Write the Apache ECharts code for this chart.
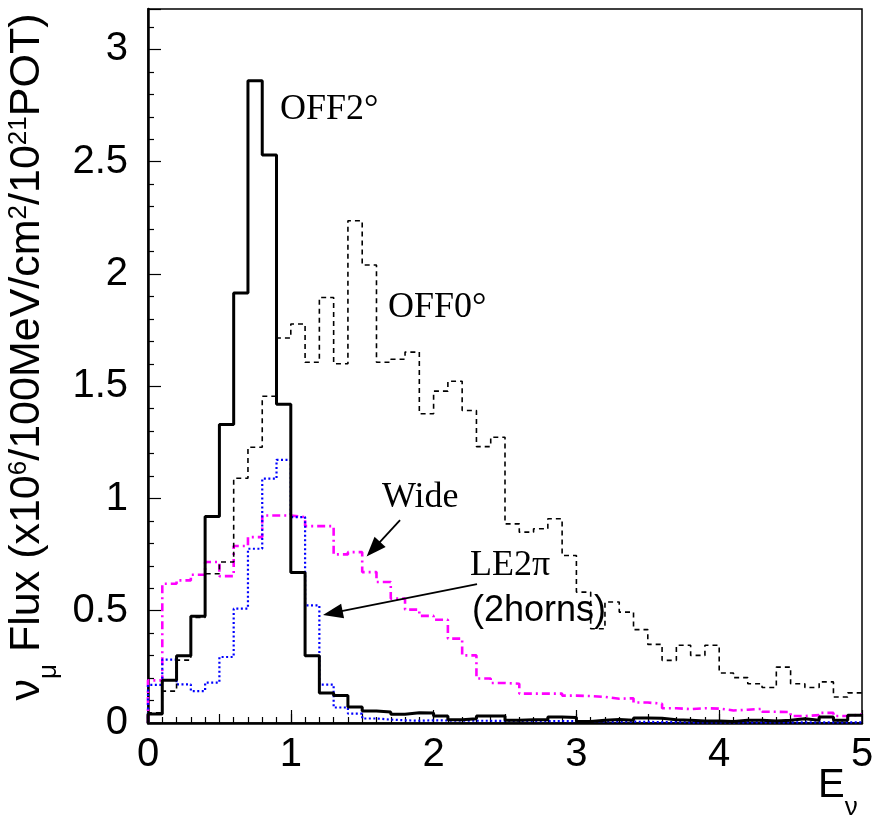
<!DOCTYPE html>
<html>
<head>
<meta charset="utf-8">
<script src="https://cdn.jsdelivr.net/npm/echarts@6/dist/echarts.min.js"></script>
<style>
  html, body { margin: 0; padding: 0; background: #fff; }
  #chart { width: 872px; height: 818px; }
</style>
</head>
<body>
<div id="chart"></div>
<script>
// 50 bins of 0.1 GeV, E from 0 to 5
const binEdges = Array.from({ length: 51 }, (_, i) => +(i * 0.1).toFixed(1));

// OFF2 deg (solid)
const off2 = [
  0.04, 0.19, 0.30, 0.475, 0.92, 1.33, 1.915, 2.86, 2.53, 1.42,
  0.67, 0.30, 0.134, 0.123, 0.071, 0.053, 0.049, 0.039, 0.046, 0.045,
  0.031, 0.015, 0.019, 0.031, 0.031, 0.012, 0.015, 0.015, 0.027, 0.024,
  0.007, 0.012, 0.016, 0.012, 0.022, 0.021, 0.015, 0.012, 0.009, 0.009,
  0.007, 0.012, 0.012, 0.009, 0.012, 0.019, 0.012, 0.027, 0.012, 0.034
];
// OFF0 deg (dashed)
const off0 = [
  0.045, 0.142, 0.28, 0.47, 0.665, 0.717, 1.09, 1.228, 1.455, 1.715,
  1.777, 1.607, 1.895, 1.60, 2.237, 2.04, 1.607, 1.62, 1.652, 1.377,
  1.478, 1.522, 1.392, 1.231, 1.273, 0.887, 0.85, 0.865, 0.91, 0.746,
  0.583, 0.42, 0.539, 0.494, 0.416, 0.35, 0.279, 0.346, 0.301, 0.346,
  0.223, 0.202, 0.175, 0.158, 0.249, 0.175, 0.158, 0.183, 0.116, 0.134
];
// Wide (magenta dash-dot)
const wide = [
  0.19, 0.62, 0.635, 0.66, 0.717, 0.654, 0.788, 0.828, 0.924, 0.924,
  0.917, 0.877, 0.877, 0.751, 0.761, 0.672, 0.628, 0.554, 0.505, 0.477,
  0.46, 0.376, 0.301, 0.198, 0.178, 0.175, 0.131, 0.131, 0.131, 0.122,
  0.12, 0.116, 0.108, 0.11, 0.091, 0.086, 0.066, 0.062, 0.066, 0.064,
  0.056, 0.059, 0.063, 0.05, 0.049, 0.031, 0.035, 0.045, 0.031, 0.038
];
// LE2pi, 2 horns (blue dotted)
const le2pi = [
  0.17, 0.282, 0.172, 0.142, 0.18, 0.294, 0.509, 0.776, 1.088, 1.172,
  0.917, 0.524, 0.171, 0.069, 0.042, 0.02, 0.015, 0.012, 0.01, 0.012,
  0.011, 0.01, 0.01, 0.01, 0.009, 0.01, 0.009, 0.008, 0.009, 0.008,
  0.007, 0.007, 0.006, 0.006, 0.005, 0.004, 0.004, 0.003, 0.003, 0.003,
  0.003, 0.003, 0.003, 0.003, 0.003, 0.003, 0.003, 0.003, 0.003, 0.003
];

const yTicks = [0, 0.5, 1, 1.5, 2, 2.5, 3];

// histogram outline: rise from 0 at the first edge, then one step per bin
function steps(vals) {
  const pts = [[binEdges[0], 0]];
  vals.forEach((v, i) => pts.push([binEdges[i], v]));
  pts.push([binEdges[vals.length], vals[vals.length - 1]]);
  return pts;
}

const SANS = "'Liberation Sans', Arial, sans-serif";
const SERIF = "'Liberation Serif', 'Times New Roman', serif";

const chart = echarts.init(document.getElementById("chart"), null, { renderer: "canvas" });

const tickStyle = { color: "#000", width: 1.2 };

const option = {
  animation: false,
  backgroundColor: "#fff",
  grid: {
    left: 148, right: 10, top: 9, bottom: 95,
    containLabel: false, outerBoundsMode: "none",
    show: true, borderColor: "#000", borderWidth: 1.5, backgroundColor: "transparent"
  },
  xAxis: [
    {
      type: "value", min: 0, max: 5, interval: 1,
      axisLine: { show: true, onZero: false, lineStyle: { color: "#000", width: 2.5 } },
      axisTick: { show: true, inside: true, length: 13, lineStyle: tickStyle },
      axisLabel: { color: "#000", fontFamily: SANS, fontSize: 40, margin: 12 },
      splitLine: { show: false }
    },
    {
      type: "value", min: 0, max: 5, interval: 0.5, position: "bottom",
      axisLine: { show: false },
      axisTick: { show: true, inside: true, length: 9, lineStyle: tickStyle },
      minorTick: { show: true, splitNumber: 5, length: 6, lineStyle: tickStyle },
      axisLabel: { show: false },
      splitLine: { show: false }
    }
  ],
  yAxis: [
    {
      type: "value", min: 0, max: 3.18, interval: 0.5,
      axisLine: { show: true, lineStyle: { color: "#000", width: 2.5 } },
      axisTick: { show: true, inside: true, length: 13, lineStyle: tickStyle },
      minorTick: { show: true, splitNumber: 5, length: 6, lineStyle: tickStyle },
      axisLabel: {
        color: "#000", fontFamily: SANS, fontSize: 40, margin: 20, showMaxLabel: false,
        formatter: (v) => (yTicks.includes(v) ? String(v) : "")
      },
      splitLine: { show: false },
      name: "{m|ν}{sub|μ}{m| Flux (x10}{sup|6}{m|/100MeV/cm}{sup|2}{m|/10}{sup|21}{m|POT)}",
      nameLocation: "middle",
      nameRotate: 90,
      nameGap: 88,
      nameTextStyle: {
        padding: [0, 0, 0, 18],
        rich: {
          m: { fontFamily: SANS, fontSize: 43, lineHeight: 50, color: "#000", verticalAlign: "top" },
          sup: { fontFamily: SANS, fontSize: 26, lineHeight: 26, color: "#000", verticalAlign: "top" },
          sub: { fontFamily: SANS, fontSize: 26, lineHeight: 26, color: "#000", verticalAlign: "top", padding: [30, 0, 0, 0] }
        }
      }
    }
  ],
  series: [
    {
      name: "Wide", type: "line", step: "end", symbol: "none",
      data: steps(wide),
      lineStyle: { color: "#ff00ff", width: 2.6, type: [8, 4, 2, 4] },
      markLine: {
        silent: true, animation: false,
        symbol: ["none", "triangle"], symbolSize: [15, 20],
        label: { show: false },
        lineStyle: { color: "#000", width: 1.8, type: "solid" },
        data: [
          [{ coord: [1.765, 0.904] }, { coord: [1.578, 0.774] }],
          [{ coord: [2.304, 0.619] }, { coord: [1.294, 0.49] }]
        ]
      }
    },
    {
      name: "LE2π", type: "line", step: "end", symbol: "none",
      data: steps(le2pi),
      lineStyle: { color: "#0000ff", width: 2.2, type: [2, 2.5] }
    },
    {
      name: "OFF0°", type: "line", step: "end", symbol: "none",
      data: steps(off0),
      lineStyle: { color: "#000", width: 1.6, type: [5, 4] }
    },
    {
      name: "OFF2°", type: "line", step: "end", symbol: "none",
      data: steps(off2),
      lineStyle: { color: "#000", width: 3, type: "solid" }
    }
  ],
  graphic: [
    { type: "text", left: 280, top: 92, style: { text: "OFF2°", font: "36px " + SERIF, fill: "#000" } },
    { type: "text", left: 388, top: 290, style: { text: "OFF0°", font: "36px " + SERIF, fill: "#000" } },
    { type: "text", left: 382, top: 480, style: { text: "Wide", font: "36px " + SERIF, fill: "#000" } },
    { type: "text", left: 470, top: 548, style: { text: "LE2π", font: "36px " + SERIF, fill: "#000" } },
    { type: "text", left: 472, top: 593, style: { text: "(2horns)", font: "36px " + SANS, fill: "#000" } },
    // x-axis title, E with subscript nu, below the right end of the axis
    {
      type: "text", left: 818, top: 766,
      style: {
        text: "{e|E}{sub|ν}",
        rich: {
          e: { fontFamily: SANS, fontSize: 40, lineHeight: 44, fill: "#000", verticalAlign: "top" },
          sub: { fontFamily: SANS, fontSize: 26, lineHeight: 26, fill: "#000", verticalAlign: "top", padding: [29, 0, 0, 0] }
        }
      }
    }
  ]
};

chart.setOption(option);
</script>
</body>
</html>
